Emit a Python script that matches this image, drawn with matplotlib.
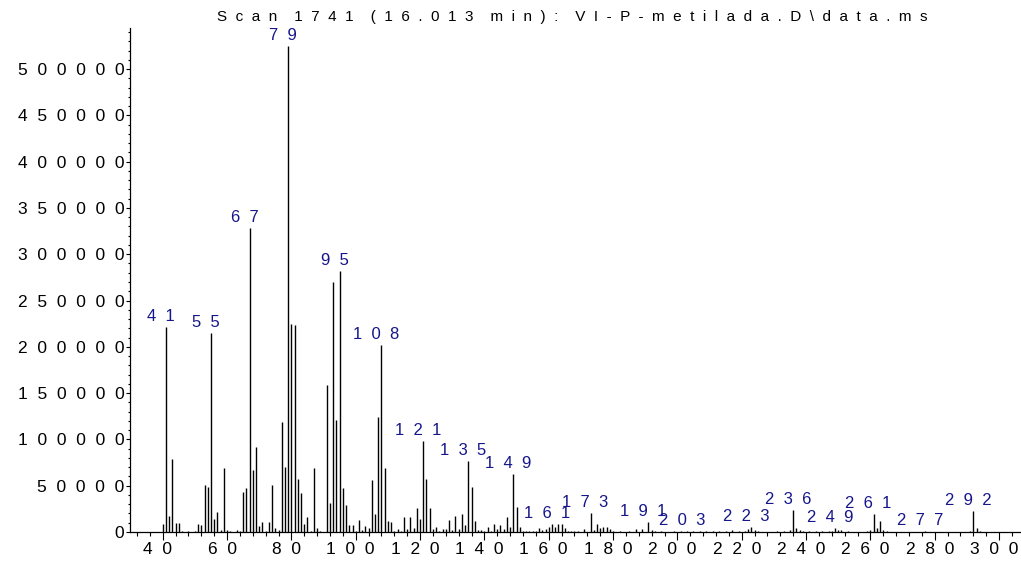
import matplotlib
matplotlib.use("Agg")
import matplotlib.pyplot as plt
import matplotlib.transforms as mtransforms
from matplotlib.ticker import MultipleLocator

TITLE = r"Scan 1741 (16.013 min): VI-P-metilada.D\data.ms"

# m/z values of the spectrum and their abundances
mz = list(range(40, 306))
abundance = [
    # 40-59
    8600, 221000, 17600, 78500, 9400, 9400, 800, 0, 1000, 0,
    1500, 9000, 7200, 51000, 49000, 215000, 14000, 22000, 1800, 69500,
    # 60-79
    1800, 700, 500, 1800, 700, 43600, 47500, 328000, 66600, 91800,
    6800, 10800, 1500, 11200, 51100, 4700, 1800, 118400, 70000, 525000,
    # 80-99
    225000, 224000, 57600, 42500, 9000, 16200, 1400, 69100, 4800, 1400,
    500, 158500, 31800, 270500, 121300, 282000, 47500, 29500, 7900, 7600,
    # 100-119
    1600, 13300, 1800, 6800, 4800, 56500, 19200, 123800, 201800, 69100,
    12200, 10800, 1500, 3200, 1500, 16200, 3500, 16600, 4000, 26000,
    # 120-139
    14000, 98600, 57600, 25400, 3000, 5600, 1500, 3600, 3600, 13300,
    2200, 17600, 3600, 19800, 7400, 76200, 48200, 12200, 2200, 2500,
    # 140-159
    1000, 4900, 1200, 8800, 3500, 7700, 3000, 16200, 5700, 62500,
    27400, 5600, 1200, 1000, 1000, 1000, 1000, 4700, 2500, 3200,
    # 160-179
    5000, 8600, 5800, 9000, 9000, 3800, 1000, 1400, 800, 800,
    500, 3200, 500, 20800, 2000, 9000, 4300, 5800, 5800, 2800,
    # 180-199
    1400, 500, 1000, 500, 500, 1400, 500, 3200, 500, 3200,
    500, 10300, 2500, 1400, 500, 1000, 500, 500, 500, 1000,
    # 200-219
    500, 800, 500, 1400, 500, 1400, 500, 1000, 500, 1400,
    500, 1000, 500, 800, 500, 1000, 500, 2500, 500, 1400,
    # 220-239
    500, 1400, 3000, 5400, 2200, 1000, 500, 500, 500, 500,
    500, 1400, 500, 1400, 500, 2500, 24000, 4500, 2500, 800,
    # 240-259
    500, 1000, 500, 1000, 500, 1000, 500, 1400, 800, 4500,
    2200, 1800, 500, 800, 500, 500, 500, 500, 500, 1000,
    # 260-279
    2200, 19000, 4300, 12000, 2500, 1000, 500, 500, 500, 500,
    500, 500, 500, 500, 500, 500, 500, 1000, 500, 500,
    # 280-299
    500, 500, 500, 500, 500, 500, 500, 500, 500, 500,
    500, 1000, 22700, 4300, 1000, 500, 500, 500, 500, 500,
    # 300-305
    500, 500, 500, 500, 500, 500,
]

labelled_mz = [41, 55, 67, 79, 95, 108, 121, 135, 149, 161, 173, 191,
               203, 223, 236, 249, 261, 277, 292]

x_ticks = list(range(40, 301, 20))
y_ticks = list(range(0, 500001, 50000))

FONT = ["Liberation Sans", "DejaVu Sans"]
LABEL_BLUE = "#16168a"


def spaced(text, gap="  "):
    """Letter-spaced text, with a wider gap where the text has a space."""
    words = text.split(" ")
    return (gap * 2).join(gap.join(w) for w in words)


plt.rcParams["font.family"] = FONT

W, H = 1021, 561
fig = plt.figure(figsize=(W / 100, H / 100), dpi=100)
ax = fig.add_axes([130 / W, 29 / H, 890 / W, 504 / H])

ax.vlines(mz, 0, abundance, colors="black", lw=1.0)

ax.set_xlim(29.83, 306.5)
ax.set_ylim(0, 544300)

for m in labelled_mz:
    a = abundance[mz.index(m)]
    ax.annotate(spaced(str(m)), (m, a), xytext=(-5, 3),
                textcoords="offset pixels", ha="center", va="bottom",
                color=LABEL_BLUE, fontsize=12)

ax.set_xticks(x_ticks)
ax.set_xticklabels([spaced(str(t)) for t in x_ticks])
ax.xaxis.set_minor_locator(MultipleLocator(4))
ax.set_yticks(y_ticks)
ax.set_yticklabels([spaced(str(t)) for t in y_ticks])
ax.yaxis.set_minor_locator(MultipleLocator(10000))

ax.tick_params(axis="x", which="major", direction="out", length=5.8,
               width=0.8, pad=1.5, labelsize=12.5)
ax.tick_params(axis="x", which="minor", direction="out", length=2.9,
               width=0.8)
ax.tick_params(axis="y", which="major", direction="out", length=2.6,
               width=0.8, pad=1.5, labelsize=12.5)
ax.tick_params(axis="y", which="minor", direction="out", length=1.5,
               width=0.8)

# x tick labels sit a little to the left of their ticks
shift = mtransforms.ScaledTranslation(-5 / 100, 0, fig.dpi_scale_trans)
for lbl in ax.get_xticklabels():
    lbl.set_transform(lbl.get_transform() + shift)

for side in ("top", "right"):
    ax.spines[side].set_visible(False)
for side in ("left", "bottom"):
    ax.spines[side].set_linewidth(0.9)

fig.text(572 / W, 1 - 17 / H, spaced(TITLE), ha="center", va="center",
         fontsize=11)

fig.savefig("out.png", dpi=100)
